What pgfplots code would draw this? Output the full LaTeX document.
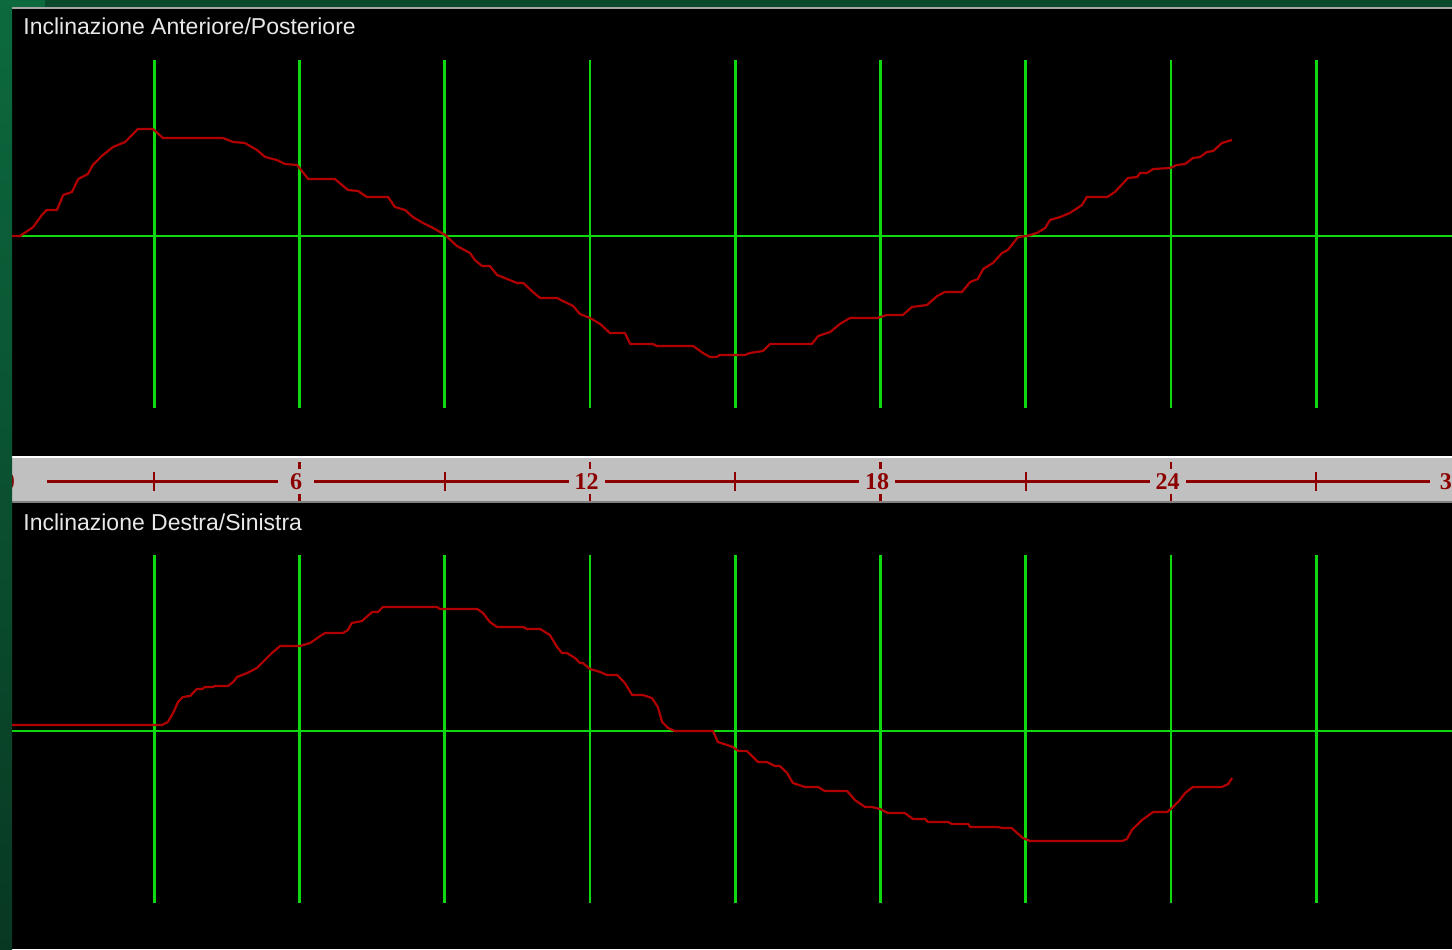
\documentclass[border=0pt]{standalone}
\usepackage{fontspec}
\setmainfont{Liberation Sans}
\newfontfamily\rulerfont{Liberation Serif}
\usepackage{pgfplots}
\pgfplotsset{compat=1.18}
\definecolor{bggreen}{HTML}{0A4A2C}
\definecolor{stripTop}{HTML}{0C6A3E}
\definecolor{stripBot}{HTML}{083822}
\definecolor{gridgreen}{HTML}{10D810}
\definecolor{curvered}{HTML}{B00000}
\definecolor{rulerred}{HTML}{8C0000}
\definecolor{rulergrey}{HTML}{C0C0C0}
\definecolor{titlegrey}{HTML}{E8E8E8}
\pgfplotsset{panel/.style={
  scale only axis, width=720pt, height=174pt,
  xmin=0.062, xmax=29.802, ymin=-172, ymax=176,
  axis line style={draw=none},
  xtick={3,6,...,27}, ytick={0},
  xticklabels={}, yticklabels={},
  major tick length=0pt, tick style={draw=none},
  grid=major, major grid style={gridgreen, line width=1.4pt},
  anchor=south west}}
\begin{document}
\begin{tikzpicture}
\useasboundingbox (0,0) rectangle (726pt,474.5pt);
\clip (0,0) rectangle (726pt,474.5pt);
\fill[black] (0,0) rectangle (726pt,474.5pt);
% grey ruler band
\fill[white] (6pt,246.5pt) rectangle (726pt,245.5pt);
\fill[rulergrey] (6pt,245.5pt) rectangle (726pt,224pt);
\fill[gray] (6pt,224pt) rectangle (726pt,223pt);

% top panel
\begin{axis}[panel, at={(6pt,270.5pt)}]
\addplot[curvered, line width=1.1pt, line join=round, mark=none] coordinates {
(0.06,0) (0.23,0) (0.50,9) (0.68,21) (0.78,26) (0.99,26) (1.12,41) (1.30,44) (1.43,57) (1.63,62) (1.73,71) (1.94,81) (2.15,89) (2.40,94) (2.66,107) (2.97,107) (3.18,98) (4.42,98) (4.63,94) (4.87,93) (5.12,86) (5.29,79) (5.53,76) (5.70,72) (5.95,71) (6.18,57) (6.73,57) (7.00,46) (7.21,45) (7.39,39) (7.83,39) (7.97,29) (8.18,26) (8.34,19) (8.55,13) (8.76,8) (9.01,1) (9.25,-10) (9.52,-17) (9.62,-24) (9.77,-30) (9.93,-30) (10.08,-39) (10.29,-43) (10.49,-47) (10.62,-47) (10.82,-56) (10.97,-62) (11.32,-62) (11.44,-65) (11.65,-70) (11.79,-78) (12.00,-82) (12.21,-88) (12.41,-97) (12.72,-97) (12.83,-108) (13.30,-108) (13.38,-110) (14.13,-110) (14.33,-117) (14.48,-121) (14.62,-121) (14.68,-119) (15.20,-119) (15.30,-117) (15.57,-115) (15.72,-108) (16.58,-108) (16.71,-100) (16.96,-96) (17.16,-88) (17.37,-82) (17.93,-82) (18.13,-79) (18.46,-79) (18.65,-71) (18.96,-69) (19.17,-60) (19.33,-56) (19.68,-56) (19.85,-46) (20.01,-43) (20.12,-33) (20.32,-27) (20.51,-17) (20.63,-14) (20.84,-1) (21.02,0) (21.09,1) (21.23,3) (21.40,8) (21.50,16) (21.71,19) (21.91,23) (22.16,31) (22.26,39) (22.68,39) (22.84,44) (23.11,58) (23.30,59) (23.36,63) (23.50,63) (23.63,67) (23.98,68) (24.12,71) (24.29,72) (24.45,78) (24.60,79) (24.74,84) (24.87,85) (25.05,93) (25.26,96)
};
\end{axis}

% bottom panel
\begin{axis}[panel, at={(6pt,23pt)}]
\addplot[curvered, line width=1.1pt, line join=round, mark=none] coordinates {
(0.06,6) (3.16,6) (3.28,9) (3.39,18) (3.49,29) (3.59,34) (3.74,35) (3.88,42) (3.99,42) (4.05,44) (4.21,44) (4.25,45) (4.52,45) (4.63,49) (4.71,54) (4.92,58) (5.12,63) (5.43,78) (5.60,85) (6.01,85) (6.22,88) (6.46,96) (6.53,98) (6.90,98) (7.00,101) (7.08,108) (7.29,110) (7.50,119) (7.62,119) (7.72,124) (8.84,124) (8.90,122) (9.67,122) (9.79,118) (9.93,109) (10.08,104) (10.62,104) (10.70,102) (10.97,102) (11.17,96) (11.32,84) (11.42,78) (11.52,78) (11.69,73) (11.79,68) (11.85,68) (12.00,62) (12.21,59) (12.35,56) (12.56,56) (12.72,48) (12.87,36) (13.09,36) (13.28,33) (13.40,24) (13.49,9) (13.61,3) (13.75,0) (14.54,0) (14.64,-11) (14.83,-14) (14.95,-16) (15.06,-20) (15.24,-20) (15.47,-31) (15.65,-31) (15.82,-35) (15.92,-35) (16.07,-42) (16.19,-52) (16.44,-56) (16.71,-56) (16.85,-60) (17.31,-60) (17.47,-69) (17.68,-76) (17.82,-76) (17.99,-78) (18.15,-82) (18.50,-82) (18.67,-88) (18.92,-88) (18.98,-91) (19.39,-91) (19.48,-93) (19.81,-93) (19.85,-96) (20.43,-96) (20.51,-97) (20.71,-97) (20.82,-102) (20.94,-107) (21.09,-110) (22.99,-110) (23.09,-108) (23.19,-99) (23.40,-89) (23.63,-81) (23.92,-81) (24.04,-76) (24.18,-69) (24.29,-62) (24.45,-56) (25.05,-56) (25.18,-53) (25.26,-47)
};
\end{axis}

% ruler
\begin{axis}[scale only axis, width=720pt, height=21pt, xmin=0.062, xmax=29.802,
  ymin=-21, ymax=21, hide axis, clip=false, anchor=south west, at={(6pt,224pt)}]
\draw[rulerred, line width=1.1pt] (axis cs:0.785,-1.5) -- (axis cs:29.9,-1.5);
\pgfplotsinvokeforeach{3,9,15,21,27}{
  \draw[rulerred, line width=1.1pt] (axis cs:#1,8) -- (axis cs:#1,-11);
}
\pgfplotsinvokeforeach{6,12,18,24}{
  \draw[rulerred, line width=1.1pt] (axis cs:#1,18) -- (axis cs:#1,-21);
  \node[fill=rulergrey, inner sep=0pt, minimum width=18pt, minimum height=12.5pt,
        text=rulerred, font=\rulerfont\bfseries\fontsize{12}{12}\selectfont]
        at (axis cs:{#1-0.072},-1.5) {#1};
}
\node[fill=rulergrey, inner sep=0pt, minimum width=18pt, minimum height=12.5pt,
      text=rulerred, font=\rulerfont\bfseries\fontsize{12}{12}\selectfont]
      at (axis cs:0.0,-1.5) {0};
\node[fill=rulergrey, inner sep=0pt, minimum width=22pt, minimum height=12.5pt,
      text=rulerred, font=\rulerfont\bfseries\fontsize{12}{12}\selectfont]
      at (axis cs:29.80,-1.5) {30};
\end{axis}

% titles
\node[anchor=base west, inner sep=0pt, text=titlegrey, font=\fontsize{11.5}{13}\selectfont]
  at (11.5pt,457pt) {Inclinazione Anteriore/Posteriore};
\node[anchor=base west, inner sep=0pt, text=titlegrey, font=\fontsize{11.5}{13}\selectfont]
  at (11.5pt,209.25pt) {Inclinazione Destra/Sinistra};

% window frame strips
\fill[bggreen] (0,474.5pt) rectangle (726pt,471pt);
\fill[stripTop] (0,474.5pt) rectangle (22.5pt,471pt);
\fill[gray!70] (6pt,471pt) rectangle (726pt,470pt);
\shade[top color=stripTop, bottom color=stripBot] (0,0) rectangle (6pt,474.5pt);
\end{tikzpicture}
\end{document}
